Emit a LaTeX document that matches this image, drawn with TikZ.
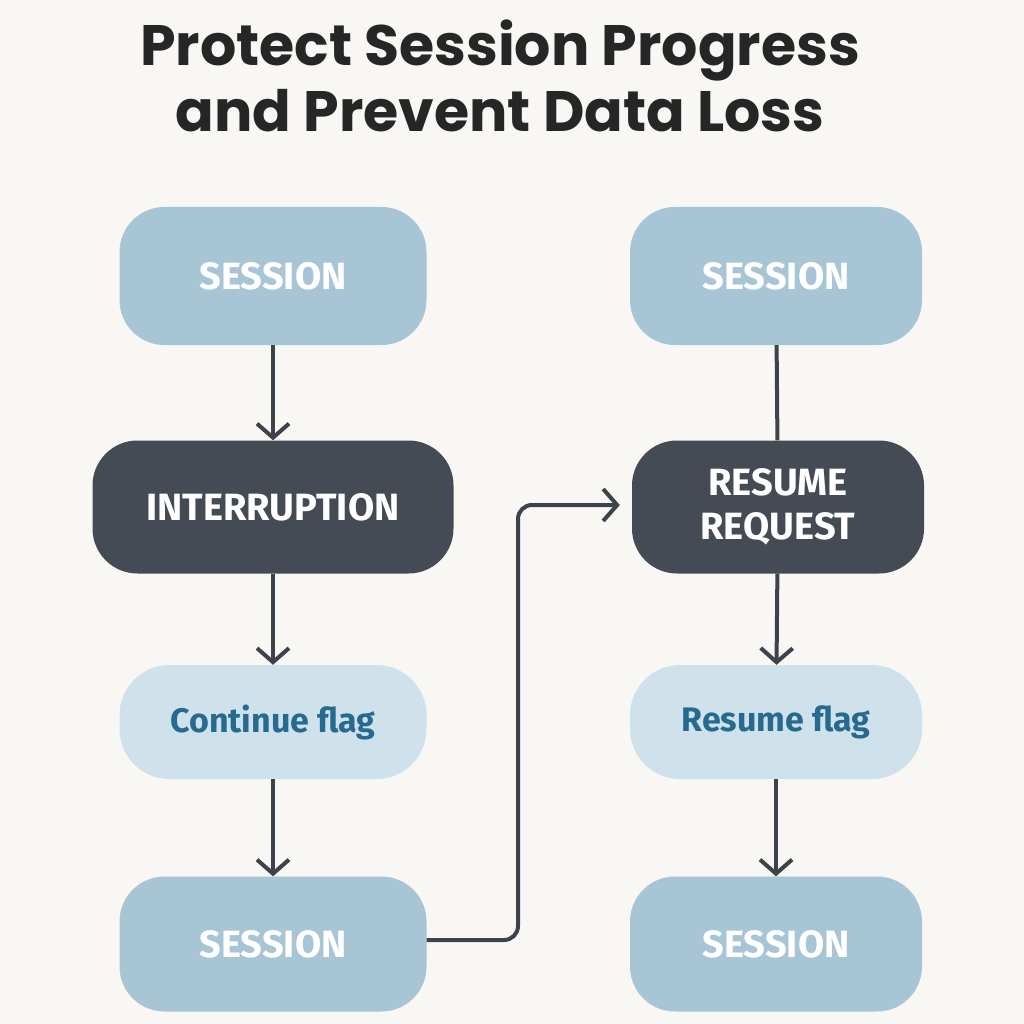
\documentclass[tikz,border=0pt]{standalone}
\usepackage{fontspec}
\setmainfont{Poppins}
\newfontfamily\bodyf{Fira Sans}
\usetikzlibrary{arrows.meta}
\definecolor{bg}{HTML}{F8F7F4}
\definecolor{blu}{HTML}{A8C5D6}
\definecolor{lblu}{HTML}{CFE1EB}
\definecolor{dark}{HTML}{454B54}
\definecolor{ln}{HTML}{3D434B}
\definecolor{ftxt}{HTML}{266A90}
\begin{document}
\begin{tikzpicture}[x=1pt,y=-1pt,
  box/.style={rounded corners=45pt,minimum width=307pt,minimum height=138pt,font=\bodyf\fontsize{38}{40}\selectfont\bfseries,align=center},
  sess/.style={box,fill=blu,text=white},
  drk/.style={box,fill=dark,text=white,minimum height=133pt},
  flag/.style={box,fill=lblu,text=ftxt,minimum height=114pt,rounded corners=50pt,font=\bodyf\fontsize{34}{36}\selectfont\bfseries},
  con/.style={draw=ln,line width=4pt,-{Straight Barb[length=14pt,width=32pt,line width=4pt]}}]
\fill[bg] (0,0) rectangle (1024,1024);
\useasboundingbox (0,0) rectangle (1024,1024);
\node[font=\fontsize{57}{70}\selectfont\bfseries,text=black!85,align=center] (title) at (500,76) {Protect Session Progress\\[-4pt]and Prevent Data Loss};
\node[sess] (s1) at (273,276) {SESSION};
\node[drk,minimum width=361pt] (int) at (273,507) {INTERRUPTION};
\node[flag] (cf) at (273,722) {Continue flag};
\node[sess,minimum height=135pt] (s2) at (273,944) {SESSION};
\node[sess,minimum width=292pt] (s3) at (776,276) {SESSION};
\node[drk,minimum width=292pt,font=\bodyf\fontsize{38}{44}\selectfont\bfseries] (rr) at (778,507) {RESUME\\REQUEST};
\node[flag,minimum width=292pt] (rf) at (776,722) {Resume flag};
\node[sess,minimum width=292pt,minimum height=135pt] (s4) at (776,944) {SESSION};
\draw[con] (s1) -- (int);
\draw[con] (int) -- (cf);
\draw[con] (cf) -- (s2);
\draw[draw=ln,line width=4pt] (s3) -- (rr);
\draw[con] (rr) -- (rf);
\draw[con] (rf) -- (s4);
\draw[con,rounded corners=14pt] ([yshift=4pt]s2.east) -- (518,940) -- (518,505) -- ([xshift=-12pt,yshift=2pt]rr.west);
\end{tikzpicture}
\end{document}
